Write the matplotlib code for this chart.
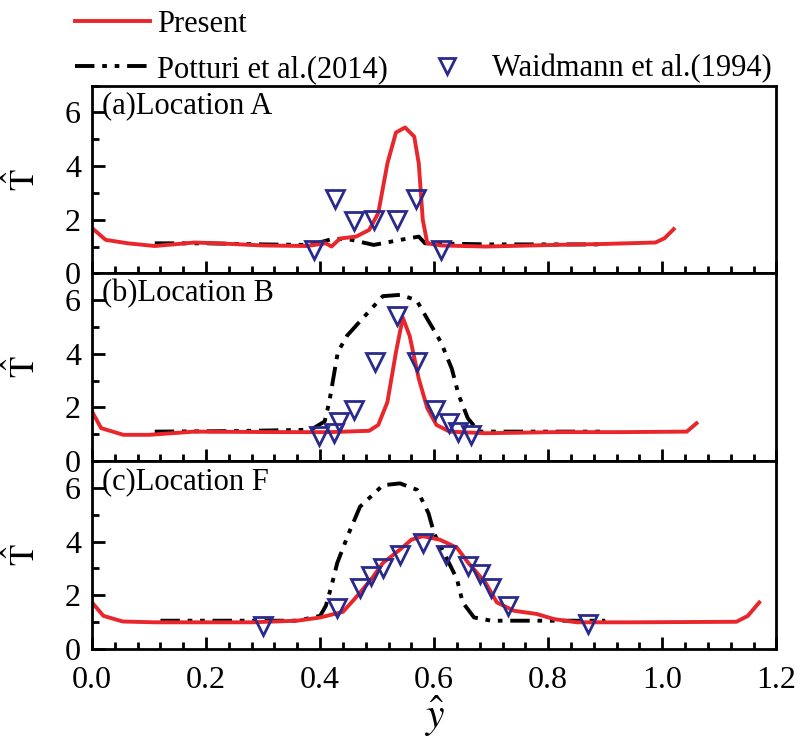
import matplotlib
matplotlib.use("Agg")
import matplotlib.pyplot as plt
from matplotlib.lines import Line2D
from matplotlib.ticker import MultipleLocator, AutoMinorLocator, FormatStrFormatter

plt.rcParams['font.family'] = ['Liberation Serif', 'DejaVu Serif']
plt.rcParams['mathtext.fontset'] = 'stix'

# ---- data ----
# (a) Location A
a_present_x = [0.0, 0.024, 0.063, 0.11, 0.18, 0.22, 0.30, 0.376, 0.41, 0.42, 0.435, 0.463,
               0.486, 0.502, 0.518, 0.533, 0.549, 0.565, 0.573, 0.58, 0.588, 0.612, 0.69,
               0.81, 0.886, 0.988, 1.004, 1.02]
a_present_y = [1.69, 1.25, 1.12, 1.02, 1.15, 1.12, 1.04, 1.02, 1.12, 1.0, 1.3, 1.37,
               1.62, 2.25, 4.1, 5.25, 5.44, 5.1, 4.1, 2.0, 1.12, 1.04, 1.0,
               1.06, 1.09, 1.15, 1.31, 1.65]
a_potturi_x = [0.11, 0.2, 0.3, 0.384, 0.424, 0.455, 0.494, 0.541, 0.573, 0.584, 0.7, 0.902]
a_potturi_y = [1.12, 1.12, 1.08, 1.06, 1.3, 1.25, 1.06, 1.25, 1.37, 1.12, 1.08, 1.08]
a_exp_x = [0.39, 0.426, 0.459, 0.494, 0.535, 0.569, 0.612]
a_exp_y = [0.875, 2.78, 1.94, 2.0, 2.0, 2.78, 0.875]

# (b) Location B
b_present_x = [0.0, 0.016, 0.055, 0.10, 0.18, 0.337, 0.416, 0.486, 0.502, 0.518, 0.533,
               0.545, 0.557, 0.573, 0.588, 0.604, 0.627, 0.69, 0.81, 0.925, 1.043, 1.06]
b_present_y = [1.85, 1.23, 0.98, 0.98, 1.1, 1.08, 1.08, 1.13, 1.35, 2.2, 4.06,
               5.35, 4.67, 3.07, 1.97, 1.35, 1.1, 1.04, 1.08, 1.08, 1.1, 1.41]
b_potturi_x = [0.11, 0.25, 0.384, 0.408, 0.416, 0.431, 0.447, 0.478, 0.51, 0.541, 0.569,
               0.588, 0.612, 0.631, 0.643, 0.659, 0.678, 0.8, 0.894]
b_potturi_y = [1.1, 1.12, 1.17, 1.48, 2.2, 4.06, 4.67, 5.4, 6.15, 6.2, 6.0,
               5.3, 4.43, 3.44, 2.46, 1.6, 1.1, 1.1, 1.1]
b_exp_x = [0.398, 0.425, 0.433, 0.459, 0.496, 0.535, 0.57, 0.602, 0.626, 0.641, 0.665]
b_exp_y = [0.92, 1.05, 1.45, 1.9, 3.69, 5.41, 3.69, 1.9, 1.41, 1.1, 0.98]

# (c) Location F
c_present_x = [0.0, 0.02, 0.054, 0.11, 0.28, 0.36, 0.40, 0.44, 0.46, 0.49, 0.51, 0.54,
               0.56, 0.58, 0.61, 0.64, 0.66, 0.69, 0.71, 0.74, 0.78, 0.81, 0.85, 0.95,
               1.13, 1.15, 1.17]
c_present_y = [1.73, 1.23, 1.02, 0.99, 0.99, 1.05, 1.17, 1.38, 1.85, 2.6, 3.2, 3.7,
               4.07, 4.2, 4.07, 3.77, 3.2, 2.47, 1.73, 1.42, 1.3, 1.11, 0.99, 0.99,
               1.01, 1.23, 1.73]
c_potturi_x = [0.12, 0.25, 0.36, 0.40, 0.41, 0.42, 0.43, 0.45, 0.47, 0.51, 0.54, 0.57,
               0.59, 0.60, 0.62, 0.64, 0.65, 0.67, 0.70, 0.90]
c_potturi_y = [1.05, 1.05, 1.05, 1.23, 1.6, 2.35, 3.2, 4.3, 5.3, 6.1, 6.17, 5.93,
               5.06, 4.3, 3.46, 2.6, 1.73, 1.17, 1.05, 1.05]
c_exp_x = [0.30, 0.43, 0.47, 0.49, 0.51, 0.54, 0.58, 0.62, 0.66, 0.68, 0.70, 0.73, 0.87]
c_exp_y = [0.86, 1.54, 2.28, 2.7, 3.0, 3.5, 3.95, 3.5, 3.08, 2.78, 2.28, 1.6, 0.93]

panels = [
    ("(a)Location A", a_present_x, a_present_y, a_potturi_x, a_potturi_y, a_exp_x, a_exp_y),
    ("(b)Location B", b_present_x, b_present_y, b_potturi_x, b_potturi_y, b_exp_x, b_exp_y),
    ("(c)Location F", c_present_x, c_present_y, c_potturi_x, c_potturi_y, c_exp_x, c_exp_y),
]

red = '#e8262b'
navy = '#2a2a8c'
dashes = (5, 2, 1.2, 2, 1.2, 2)

fig, axes = plt.subplots(3, 1, figsize=(8.07, 7.51), dpi=100, sharex=True)
fig.subplots_adjust(left=0.114, right=0.962, top=0.886, bottom=0.136, hspace=0)

for ax, (title, px, py, kx, ky, ex, ey) in zip(axes, panels):
    ax.plot(kx, ky, color='black', lw=2.8, dashes=dashes)
    ax.plot(px, py, color=red, lw=2.8)
    ax.plot(ex, ey, linestyle='none', marker='v', markersize=13, markerfacecolor='none',
            markeredgecolor=navy, markeredgewidth=2)
    ax.set_xlim(0, 1.2)
    ax.set_ylim(0, 7)
    ax.yaxis.set_major_locator(MultipleLocator(2))
    ax.yaxis.set_minor_locator(MultipleLocator(1))
    ax.xaxis.set_major_locator(MultipleLocator(0.2))
    ax.xaxis.set_minor_locator(AutoMinorLocator(5))
    ax.xaxis.set_major_formatter(FormatStrFormatter('%.1f'))
    ax.tick_params(which='both', direction='in', labelsize=23, width=2)
    ax.tick_params(which='major', length=9)
    ax.tick_params(which='minor', length=5)
    ax.tick_params(axis='x', pad=12)
    ax.tick_params(axis='y', pad=8)
    for s in ax.spines.values():
        s.set_linewidth(2)
    ax.set_ylabel(r'$\hat{\mathrm{T}}$', fontsize=25, labelpad=16)
    ax.text(0.015, 0.97, title, transform=ax.transAxes, ha='left', va='top', fontsize=22)

axes[-1].set_xlabel(r'$\hat{y}$', fontsize=30, labelpad=0)

h_present = Line2D([], [], color=red, lw=2.8)
h_potturi = Line2D([], [], color='black', lw=2.8, dashes=dashes)
h_exp = Line2D([], [], linestyle='none', marker='v', markersize=11, markerfacecolor='none',
               markeredgecolor=navy, markeredgewidth=2)

leg1 = fig.legend([h_present, h_potturi], ['Present', 'Potturi et al.(2014)'],
                  loc='upper left', bbox_to_anchor=(0.093, 0.987), frameon=False,
                  fontsize=22, handlelength=2.45, handletextpad=0.23, labelspacing=0.53,
                  borderpad=0, borderaxespad=0)
leg2 = fig.legend([h_exp], ['Waidmann et al.(1994)'],
                  loc='upper left', bbox_to_anchor=(0.535, 0.928), frameon=False,
                  fontsize=22, handlelength=1.0, handletextpad=0.97,
                  borderpad=0, borderaxespad=0)

fig.savefig('out.png', dpi=100)
